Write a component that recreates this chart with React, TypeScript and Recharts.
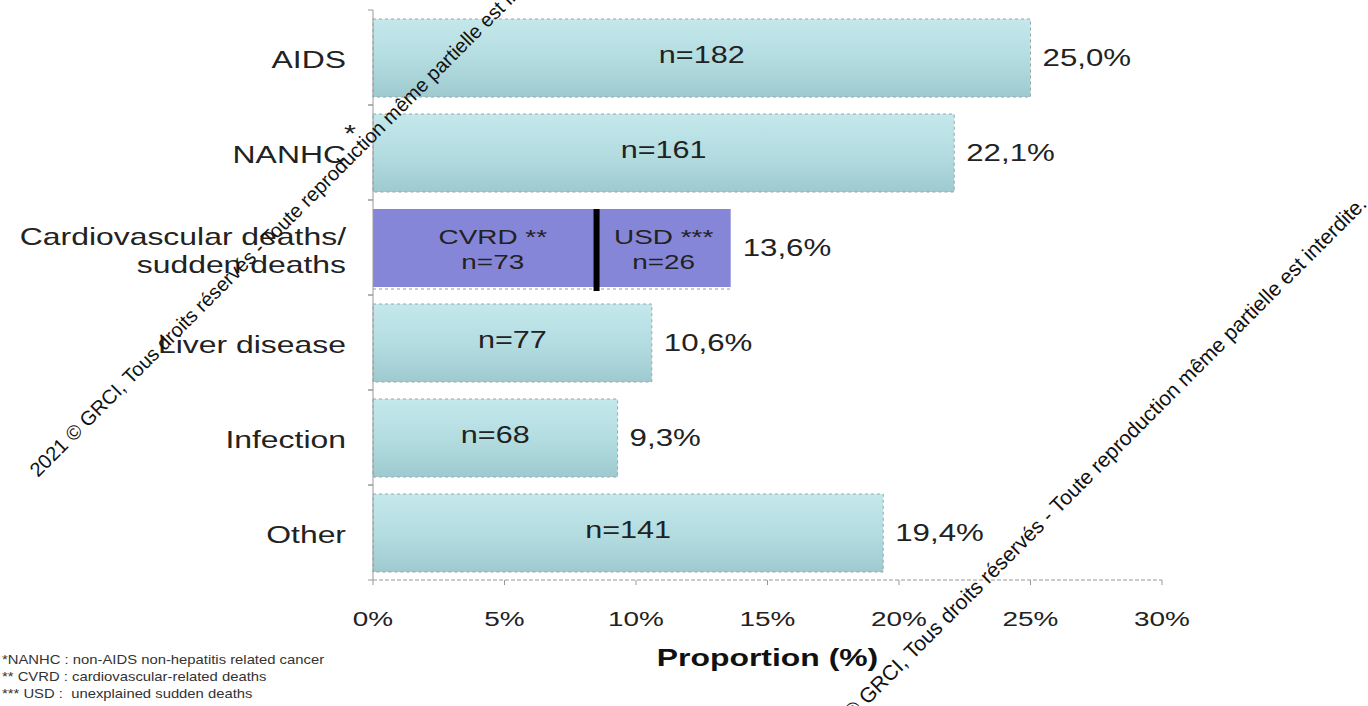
import React from 'react';
import { BarChart, Bar, XAxis, YAxis, LabelList } from 'recharts';

const categories = ['AIDS', 'NANHC', 'Cardiovascular deaths/\nsudden deaths', 'Liver disease', 'Infection', 'Other'];
const marks = ['', '*', '', '', '', ''];
const proportions = [25.0, 22.1, 13.6, 10.6, 9.3, 19.4];
const counts = [182, 161, 99, 77, 68, 141];

// the cardiovascular bar is split in two parts
const cvrdShare = 8.5;
const usdShare = 5.1;
const cvrdCount = 73;
const usdCount = 26;

const xTicks = [0, 5, 10, 15, 20, 25, 30];

const footnotes = [
  '*NANHC : non-AIDS non-hepatitis related cancer',
  '** CVRD : cardiovascular-related deaths',
  '*** USD :  unexplained sudden deaths',
];

const watermark = '2021 © GRCI, Tous droits réservés - Toute reproduction même partielle est interdite.';

const FONT = 'Arial, "Liberation Sans", sans-serif';
// slide text is drawn a little wide
const SX = 1.33;
const Y_TICK_MARGIN = 27;

const rows = categories.map((name, i) => ({
  name,
  mark: marks[i],
  value: proportions[i],
  n: counts[i],
  split: i === 2,
}));

const WideText = ({ x, y, size, anchor = 'start', weight = 'normal', fill = '#222', children }: any) => (
  <text
    transform={`translate(${x},${y}) scale(${SX},1)`}
    x={0}
    y={0}
    textAnchor={anchor}
    dominantBaseline="central"
    fontFamily={FONT}
    fontSize={size}
    fontWeight={weight}
    fill={fill}
  >
    {children}
  </text>
);

const BarShape = (props: any) => {
  const { x, y, width, height, payload } = props;
  if (payload.split) {
    const cut = x + width * (cvrdShare / (cvrdShare + usdShare));
    return (
      <g>
        <rect x={x} y={y} width={width} height={height} fill="#8686d9" />
        <line x1={x} x2={x + width} y1={y + height + 2} y2={y + height + 2} stroke="#999" strokeDasharray="3 3" />
        <rect x={cut - 3} y={y} width={6} height={height + 4} fill="#000" />
      </g>
    );
  }
  return (
    <rect x={x} y={y} width={width} height={height} fill="url(#barFill)" stroke="#9aa6a8" strokeDasharray="3 3" />
  );
};

const InnerLabel = (props: any) => {
  const vb = props.viewBox ?? props;
  const { x, y, width, height } = vb;
  const row = rows.find((r) => r.name === props.value);
  if (!row) return null;
  const cy = y + height / 2;
  if (row.split) {
    const cut = x + width * (cvrdShare / (cvrdShare + usdShare));
    const lx = (x + cut) / 2 + 8;
    const rx = (cut + x + width) / 2;
    return (
      <g>
        <WideText x={lx} y={cy - 11} size={21} anchor="middle">CVRD **</WideText>
        <WideText x={lx} y={cy + 14} size={21} anchor="middle">n={cvrdCount}</WideText>
        <WideText x={rx} y={cy - 11} size={21} anchor="middle">USD ***</WideText>
        <WideText x={rx} y={cy + 14} size={21} anchor="middle">n={usdCount}</WideText>
      </g>
    );
  }
  return (
    <WideText x={x + width / 2} y={cy - 3} size={23} anchor="middle">
      n={row.n}
    </WideText>
  );
};

const ValueLabel = (props: any) => {
  const vb = props.viewBox ?? props;
  const { x, y, width, height } = vb;
  const text = `${Number(props.value).toFixed(1).replace('.', ',')}%`;
  return (
    <WideText x={x + width + 12} y={y + height / 2} size={23.5}>
      {text}
    </WideText>
  );
};

const CategoryTick = (props: any) => {
  const { x, y, payload } = props;
  const row = rows.find((r) => r.name === payload.value);
  const lines = String(payload.value).split('\n');
  const axisX = x + Y_TICK_MARGIN;
  const half = payload.offset ?? 0;
  // small marks on the axis at the band edges
  const edges = (
    <g stroke="#999">
      <line x1={axisX - 5} x2={axisX} y1={y - half} y2={y - half} />
      <line x1={axisX - 5} x2={axisX} y1={y + half} y2={y + half} />
    </g>
  );
  if (lines.length > 1) {
    return (
      <g>
        {edges}
        <WideText x={x} y={y - 11} size={24} anchor="end">{lines[0]}</WideText>
        <WideText x={x} y={y + 17} size={24} anchor="end">{lines[1]}</WideText>
      </g>
    );
  }
  return (
    <g>
      {edges}
      <WideText x={x} y={y + 2} size={24} anchor="end">{lines[0]}</WideText>
      {row && row.mark ? (
        <WideText x={x - 2} y={y - 18} size={23}>{row.mark}</WideText>
      ) : null}
    </g>
  );
};

const PercentTick = (props: any) => {
  const { x, y, payload } = props;
  return (
    <WideText x={x} y={y + 34} size={21} anchor="middle">
      {`${payload.value}%`}
    </WideText>
  );
};

const AxisTitle = (props: any) => {
  const vb = props.viewBox;
  if (!vb) return null;
  return (
    <WideText x={vb.x + vb.width / 2} y={658} size={24} anchor="middle" weight="bold" fill="#111">
      Proportion (%)
    </WideText>
  );
};

export default function App() {
  return (
    <div style={{ position: 'absolute', left: 0, top: 0, width: 1368, height: 706, background: '#fff', fontFamily: FONT }}>
      <BarChart
        width={1368}
        height={706}
        data={rows}
        layout="vertical"
        margin={{ top: 10, right: 206, bottom: 76, left: 10 }}
        barSize={78}
      >
        <defs>
          <linearGradient id="barFill" x1="0" y1="0" x2="0" y2="1">
            <stop offset="0%" stopColor="#c4e8ec" />
            <stop offset="50%" stopColor="#b4dde1" />
            <stop offset="100%" stopColor="#9ecacf" />
          </linearGradient>
        </defs>
        <XAxis
          type="number"
          domain={[0, 30]}
          ticks={xTicks}
          height={50}
          axisLine={{ stroke: '#999', strokeDasharray: '4 2' }}
          tickLine={{ stroke: '#999' }}
          tickSize={5}
          tickMargin={0}
          tick={<PercentTick />}
          label={<AxisTitle />}
        />
        <YAxis
          type="category"
          dataKey="name"
          width={363}
          axisLine={{ stroke: '#999' }}
          tickLine={false}
          tickSize={0}
          tickMargin={Y_TICK_MARGIN}
          tick={<CategoryTick />}
          interval={0}
        />
        <Bar dataKey="value" shape={<BarShape />} isAnimationActive={false}>
          <LabelList dataKey="name" content={<InnerLabel />} />
          <LabelList dataKey="value" content={<ValueLabel />} />
        </Bar>
      </BarChart>

      <div
        style={{
          position: 'absolute',
          left: 2,
          top: 651,
          fontSize: 13,
          lineHeight: '17px',
          color: '#333',
          transform: 'scaleX(1.14)',
          transformOrigin: 'left top',
        }}
      >
        {footnotes.map((f) => (
          <div key={f} style={{ whiteSpace: 'pre' }}>{f}</div>
        ))}
      </div>

      <svg width={1368} height={706} style={{ position: 'absolute', left: 0, top: 0, pointerEvents: 'none' }}>
        <text x={38} y={478} transform="rotate(-45 38 478)" fontFamily={FONT} fontSize={20} fill="#111">
          {watermark}
        </text>
        <text x={1368} y={205} textAnchor="end" transform="rotate(-45 1368 205)" fontFamily={FONT} fontSize={21} fill="#111">
          {watermark}
        </text>
      </svg>
    </div>
  );
}
